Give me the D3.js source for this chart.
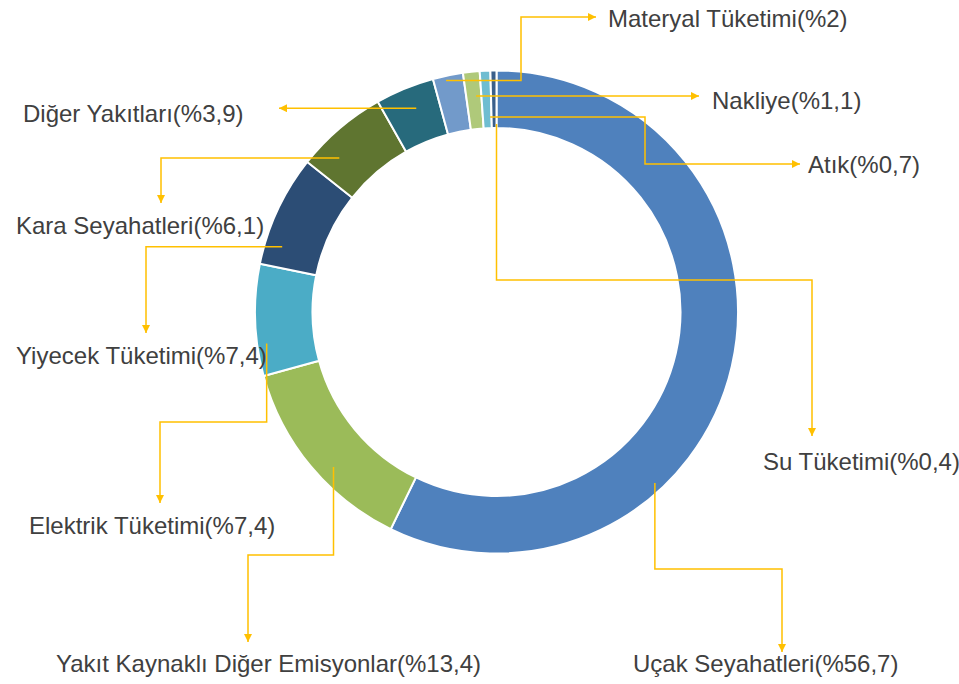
<!DOCTYPE html>
<html>
<head>
  <meta charset="utf-8" />
  <script src="https://cdn.jsdelivr.net/npm/d3@7"></script>
  <style>
    body { margin: 0; background: #fff; }
    .label { font-family: "Liberation Sans", Arial, sans-serif; font-size: 24px; fill: #404040; }
    .leader { fill: none; stroke: #FFC000; stroke-width: 1.5px; }
  </style>
</head>
<body>
<script>
  "use strict";

  // slice data, clockwise from 12 o'clock
  var names = ["Uçak Seyahatleri", "Yakıt Kaynaklı Diğer Emisyonlar", "Elektrik Tüketimi",
    "Yiyecek Tüketimi", "Kara Seyahatleri", "Diğer Yakıtları", "Materyal Tüketimi",
    "Nakliye", "Atık", "Su Tüketimi"];
  var values = [56.7, 13.4, 7.4, 7.4, 6.1, 3.9, 2, 1.1, 0.7, 0.4];
  var colors = ["#4F81BD", "#9BBB59", "#4BACC6", "#2C4D75", "#5F7530", "#276A7C",
    "#729ACA", "#AFC97A", "#6FBDD1", "#3A5F8B"];

  // label layout: text anchor (left, baseline), where the leader starts
  // inside the slice (fraction along slice, radius) and its elbow steps
  var labelPos = [[633, 672], [56, 672], [29, 534], [16, 364], [16, 234],
    [23, 122], [608, 27], [712, 109], [808, 173], [763, 470]];
  var leaderFrom = [[0.666, 233], [0.42, 225], [0.28, 232], [0.2, 224], [0.27, 220],
    [0.56, 219], [0.41, 237], [0.65, 217], [0.83, 195], [1.0, 188]];
  var leaderSteps = [
    [["v", 569], ["h", 782], ["v", 652]],
    [["v", 555], ["h", 248], ["v", 642]],
    [["v", 422], ["h", 160], ["v", 503]],
    [["h", 146], ["v", 333]],
    [["h", 161], ["v", 203]],
    [["h", 279]],
    [["h", 521], ["v", 17], ["h", 596]],
    [["h", 699]],
    [["h", 645], ["v", 164], ["h", 800]],
    [["v", 280], ["h", 812], ["v", 436]]
  ];

  var width = 959, height = 684,
    cx = 496.5, cy = 312,
    outerR = 241.5, innerR = 184;

  var svg = d3.select("body").append("svg")
    .attr("width", width)
    .attr("height", height);

  svg.append("defs").append("marker")
    .attr("id", "arrow")
    .attr("viewBox", "0 0 10 10")
    .attr("refX", 10)
    .attr("refY", 5)
    .attr("markerUnits", "userSpaceOnUse")
    .attr("markerWidth", 8)
    .attr("markerHeight", 8)
    .attr("orient", "auto")
    .append("path")
    .attr("d", "M0,0 L10,5 L0,10 Z")
    .attr("fill", "#FFC000");

  var pie = d3.pie().sort(null).value(function(d) { return d; });
  var arcs = pie(values);

  var arc = d3.arc().innerRadius(innerR).outerRadius(outerR);

  var g = svg.append("g").attr("transform", "translate(" + cx + "," + cy + ")");

  g.selectAll("path.slice")
    .data(arcs)
    .enter().append("path")
    .attr("class", "slice")
    .attr("d", arc)
    .attr("fill", function(d, i) { return colors[i]; })
    .attr("stroke", "#fff")
    .attr("stroke-width", 2);

  // leaders
  arcs.forEach(function(d, i) {
    var a = d.startAngle + (d.endAngle - d.startAngle) * leaderFrom[i][0];
    var r = leaderFrom[i][1];
    var x = cx + r * Math.sin(a), y = cy - r * Math.cos(a);
    var pts = [[x, y]];
    leaderSteps[i].forEach(function(s) {
      if (s[0] === "h") x = s[1]; else y = s[1];
      pts.push([x, y]);
    });
    svg.append("path")
      .attr("class", "leader")
      .attr("d", d3.line()(pts))
      .attr("marker-end", "url(#arrow)");
  });

  // labels
  svg.selectAll("text.label")
    .data(arcs)
    .enter().append("text")
    .attr("class", "label")
    .attr("x", function(d, i) { return labelPos[i][0]; })
    .attr("y", function(d, i) { return labelPos[i][1]; })
    .text(function(d, i) {
      return names[i] + "(%" + String(values[i]).replace(".", ",") + ")";
    });
</script>
</body>
</html>
